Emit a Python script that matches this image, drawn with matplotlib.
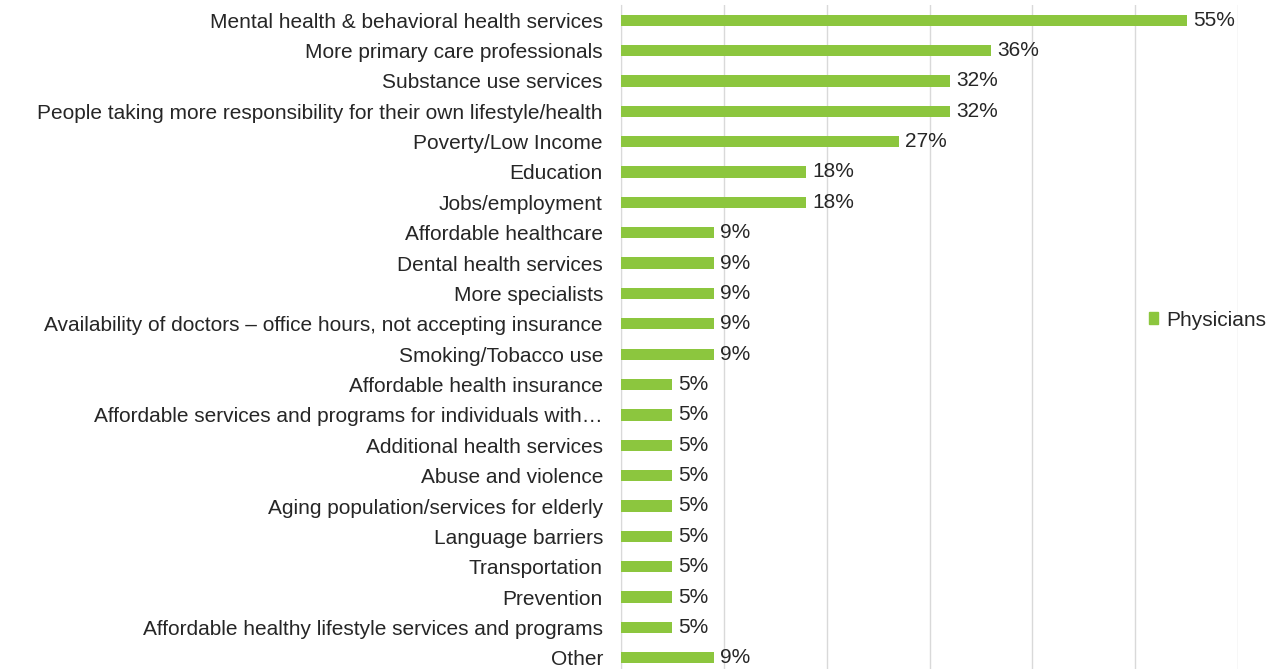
import numpy as np
from matplotlib import pyplot as plt
from matplotlib.patches import Patch

plt.rcParams['font.family'] = ['Liberation Sans', 'DejaVu Sans']

# Categories, top to bottom
categories = [
    "Mental health & behavioral health services",
    "More primary care professionals",
    "Substance use services",
    "People taking more responsibility for their own lifestyle/health",
    "Poverty/Low Income",
    "Education",
    "Jobs/employment",
    "Affordable healthcare",
    "Dental health services",
    "More specialists",
    "Availability of doctors \u2013 office hours, not accepting insurance",
    "Smoking/Tobacco use",
    "Affordable health insurance",
    "Affordable services and programs for individuals with\u2026",
    "Additional health services",
    "Abuse and violence",
    "Aging population/services for elderly",
    "Language barriers",
    "Transportation",
    "Prevention",
    "Affordable healthy lifestyle services and programs",
    "Other",
]
physicians = [55, 36, 32, 32, 27, 18, 18, 9, 9, 9, 9, 9, 5, 5, 5, 5, 5, 5, 5, 5, 5, 9]

green = "#8cc63e"
text_color = "#262626"
fs = 15

fig = plt.figure(figsize=(12.8, 6.69), dpi=100)
ax = fig.add_axes([621 / 1280, -4 / 669, (1238 - 621) / 1280, 668 / 669])

y = np.arange(len(categories))
ax.barh(y, physicians, height=0.37, color=green, zorder=3)

for yi, v in zip(y, physicians):
    ax.text(v + 0.6, yi, f"{v}%", va="center", ha="left", fontsize=fs,
            color=text_color)

ax.set_xlim(0, 60)
ax.set_ylim(len(categories) - 0.5, -0.5)
ax.set_xticks(np.arange(0, 61, 10))
ax.set_xticklabels([])
ax.tick_params(axis="x", length=0)
ax.tick_params(axis="y", length=0, pad=13)
ax.set_yticks(y)
ax.set_yticklabels(categories, fontsize=fs, color=text_color)
ax.grid(axis="x", color="#d9d9d9", linewidth=1, zorder=0)

for s in ["top", "right", "bottom"]:
    ax.spines[s].set_visible(False)
ax.spines["left"].set_color("#d9d9d9")

fig.legend(handles=[Patch(color=green, label="Physicians")],
           loc="center left", bbox_to_anchor=(1130 / 1280, 1 - 320 / 669),
           frameon=False, fontsize=fs, handlelength=0.45, handleheight=0.45,
           handletextpad=0.4, labelcolor=text_color)

fig.savefig("out.png", dpi=100)
